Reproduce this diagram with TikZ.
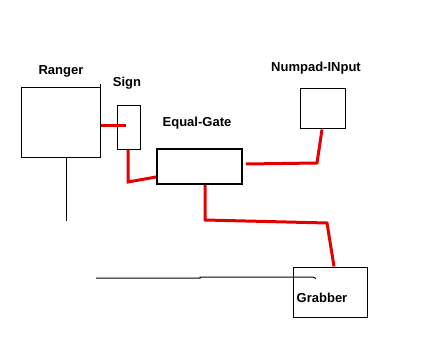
\documentclass[tikz,border=0pt]{standalone}
\usepackage{fontspec}
\setmainfont{Liberation Sans}
\usetikzlibrary{positioning,calc}

\begin{document}
\begin{tikzpicture}[
  x=1pt, y=-1pt,
  box/.style={draw=black, line width=1pt, inner sep=0pt},
  label/.style={font=\fontsize{13}{15}\selectfont\bfseries, inner sep=0pt},
  wire/.style={draw=red!90!black, line width=3pt},
  cable/.style={draw=black, line width=1pt}
]
  \useasboundingbox[fill=white] (0,0) rectangle (438,339);

  \node[box, minimum width=79pt, minimum height=69pt] (ranger) at (60.5,122.5) {};
  \node[box, minimum width=23pt, minimum height=43pt] (sign) at (128.5,127.5) {};
  \node[box, line width=2pt, minimum width=85pt, minimum height=35pt] (gate) at (199.5,166.5) {};
  \node[box, minimum width=45pt, minimum height=40pt] (numpad) at (322.5,109) {};
  \node[box, minimum width=74pt, minimum height=50pt] (grabber) at (330,292) {};

  \node[label] (rangerlbl) at (61,71) {Ranger};
  \node[label] (signlbl) at (127,83) {Sign};
  \node[label] (gatelbl) at (197,123) {Equal-Gate};
  \node[label] (numpadlbl) at (316,68) {Numpad-INput};
  \node[label] (grabberlbl) at (322,298) {Grabber};

  \coordinate (rangerend) at (66,221);
  \coordinate (cablestart) at (96,278);

  \draw[cable] ([yshift=3pt]ranger.north east) -- (ranger.north east);
  \draw[cable] ([xshift=5.5pt]ranger.south) -- (rangerend);
  \draw[cable] (cablestart) -- (200,278) -- (200,277) -- ([xshift=-17pt,yshift=15pt]grabber.center) -- ++(3,1.5);

  \draw[wire] ([yshift=-3.5pt]ranger.east) -- ([xshift=-2.5pt,yshift=1.5pt]sign.center);
  \draw[wire] ([xshift=-0.5pt]sign.south) -- (128,182) -- ([yshift=-10.5pt]gate.west);
  \draw[wire] ([xshift=3pt,yshift=2.5pt]gate.east) -- (317,163) -- ([xshift=-0.5pt]numpad.south);
  \draw[wire] ([xshift=5.5pt]gate.south) -- (205,220) -- (327,223) -- ([xshift=4pt]grabber.north);
\end{tikzpicture}
\end{document}
